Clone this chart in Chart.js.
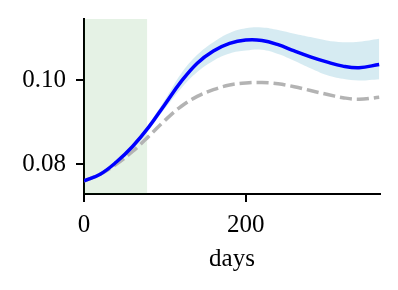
<!DOCTYPE html>
<html>
<head>
<meta charset="utf-8">
<script src="https://cdn.jsdelivr.net/npm/chart.js@4"></script>
<style>
  html, body { margin: 0; padding: 0; background: #fff; }
  #wrap { width: 398px; height: 290px; }
</style>
</head>
<body>
<div id="wrap"><canvas id="chartCanvas" width="398" height="290"></canvas></div>
<script>
const days = [0, 20, 40, 60, 80, 100, 120, 140, 160, 180, 200, 220, 240, 260, 280, 300, 320, 340, 365];
const meanValues = [0.0760, 0.0776, 0.0805, 0.0842, 0.0888, 0.0942, 0.0996, 0.1040, 0.1069, 0.1087, 0.1095, 0.1094, 0.1084, 0.1069, 0.1055, 0.1043, 0.1033, 0.1029, 0.1037];
const upperValues = [0.0762, 0.0778, 0.0808, 0.0847, 0.0895, 0.0953, 0.1015, 0.1060, 0.1090, 0.1112, 0.1123, 0.1125, 0.1119, 0.1110, 0.1102, 0.1094, 0.1090, 0.1091, 0.1098];
const lowerValues = [0.0758, 0.0774, 0.0802, 0.0837, 0.0881, 0.0932, 0.0980, 0.1019, 0.1046, 0.1063, 0.1070, 0.1072, 0.1062, 0.1046, 0.1028, 0.1012, 0.1003, 0.0999, 0.1002];
const baselineValues = [0.0760, 0.0776, 0.0800, 0.0830, 0.0866, 0.0904, 0.0937, 0.0961, 0.0977, 0.0988, 0.0993, 0.0994, 0.0991, 0.0984, 0.0975, 0.0966, 0.0958, 0.0954, 0.0959];
const shadedSpan = [0, 78];
const xTicks = [0, 200];
const yTicks = [0.08, 0.10];
const xLabel = 'days';

const serif = '"Liberation Serif", "DejaVu Serif", serif';
const toPoints = vals => vals.map((v, i) => ({ x: days[i], y: v }));

// green span behind everything, placed with the x scale
const spanPlugin = {
    id: 'spanPlugin',
    beforeDatasetsDraw(chart) {
        const { ctx, chartArea, scales } = chart;
        const x0 = scales.x.getPixelForValue(shadedSpan[0]);
        const x1 = scales.x.getPixelForValue(shadedSpan[1]);
        ctx.save();
        ctx.fillStyle = 'rgba(0, 128, 0, 0.1)';
        ctx.fillRect(x0, chartArea.top, x1 - x0, chartArea.bottom - chartArea.top);
        ctx.restore();
    }
};

new Chart(document.getElementById('chartCanvas').getContext('2d'), {
    type: 'line',
    data: {
        datasets: [
            {
                label: 'baseline',
                data: toPoints(baselineValues),
                borderColor: '#b3b3b3',
                borderWidth: 3.5,
                borderDash: [12, 5],
                pointRadius: 0,
                fill: false,
                order: 2
            },
            {
                label: 'mean',
                data: toPoints(meanValues),
                borderColor: '#0000ff',
                borderWidth: 3.5,
                pointRadius: 0,
                fill: false,
                order: 1
            },
            {
                label: 'upper',
                data: toPoints(upperValues),
                borderWidth: 0,
                borderColor: 'rgba(0,0,0,0)',
                backgroundColor: 'rgba(173, 216, 230, 0.5)',
                pointRadius: 0,
                fill: '+1',
                order: 3
            },
            {
                label: 'lower',
                data: toPoints(lowerValues),
                borderWidth: 0,
                borderColor: 'rgba(0,0,0,0)',
                pointRadius: 0,
                fill: false,
                order: 3
            }
        ]
    },
    options: {
        responsive: false,
        animation: false,
        elements: { line: { tension: 0.4, capBezierPoints: true } },
        layout: { padding: { left: 0, right: 18, top: 19, bottom: 16 } },
        plugins: { legend: { display: false }, tooltip: { enabled: false } },
        scales: {
            x: {
                type: 'linear',
                min: 0,
                max: 366,
                afterBuildTicks: scale => { scale.ticks = xTicks.map(v => ({ value: v })); },
                afterFit: scale => { scale.height = 80; scale.paddingLeft = 0; scale.paddingRight = 0; },
                grid: { drawOnChartArea: false, color: '#000', lineWidth: 2, tickLength: 8 },
                border: { color: '#000', width: 2 },
                ticks: { color: '#000', font: { family: serif, size: 25 }, padding: 8, maxRotation: 0 },
                title: { display: true, text: xLabel, color: '#000', font: { family: serif, size: 25 }, padding: { top: 0, bottom: 0 } }
            },
            y: {
                type: 'linear',
                min: 0.0729,
                max: 0.1145,
                afterBuildTicks: scale => { scale.ticks = yTicks.map(v => ({ value: v })); },
                afterFit: scale => { scale.width = 84; scale.paddingTop = 0; scale.paddingBottom = 0; },
                grid: { drawOnChartArea: false, color: '#000', lineWidth: 2, tickLength: 8 },
                border: { color: '#000', width: 2 },
                ticks: { color: '#000', font: { family: serif, size: 25 }, padding: 10, callback: v => v.toFixed(2) }
            }
        }
    },
    plugins: [spanPlugin]
});
</script>
</body>
</html>
